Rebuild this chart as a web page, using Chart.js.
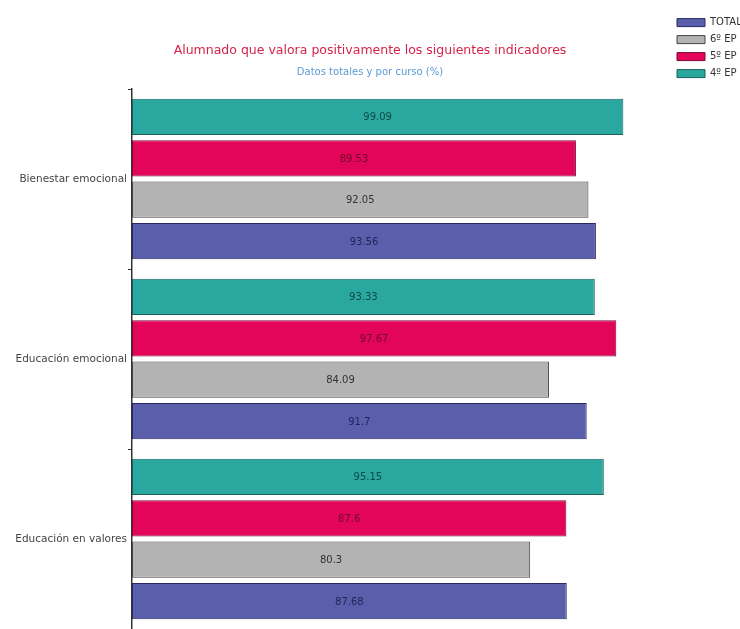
<!DOCTYPE html>
<html>
<head>
<meta charset="utf-8">
<script src="https://cdn.jsdelivr.net/npm/chart.js@4"></script>
<style>
  html, body { margin: 0; padding: 0; background: #fff; }
  #wrap { width: 740px; height: 629px; }
</style>
</head>
<body>
<div id="wrap"><canvas id="c" width="740" height="629"></canvas></div>
<script>
const categories = ['Bienestar emocional', 'Educación emocional', 'Educación en valores'];
const seriesNames = ['4º EP', '5º EP', '6º EP', 'TOTAL'];
const ep4 = [99.09, 93.33, 95.15];
const ep5 = [89.53, 97.67, 87.6];
const ep6 = [92.05, 84.09, 80.3];
const total = [93.56, 91.7, 87.68];
const titleText = 'Alumnado que valora positivamente los siguientes indicadores';
const subtitleText = 'Datos totales y por curso (%)';

const fills = ['#2aa8a0', '#e2055a', '#b3b3b3', '#5a5eab'];
const borders = ['#1a605b', '#7a0a32', '#444444', '#262965'];
const labelColors = ['#0f4a45', '#6e0a2c', '#333333', '#1f2457'];
const values = [ep4, ep5, ep6, total];

const FONT = '"DejaVu Sans", sans-serif';

const barLabels = {
  id: 'barLabels',
  afterDatasetsDraw(chart) {
    const ctx = chart.ctx;
    ctx.save();
    ctx.font = '10px ' + FONT;
    ctx.textAlign = 'center';
    ctx.textBaseline = 'middle';
    chart.data.datasets.forEach((ds, i) => {
      const meta = chart.getDatasetMeta(i);
      meta.data.forEach((el, j) => {
        const cx = (el.x + el.base) / 2;
        ctx.fillStyle = labelColors[i];
        ctx.fillText(String(ds.data[j]), cx, el.y + 1);
      });
    });
    ctx.restore();
  }
};

new Chart(document.getElementById('c'), {
  type: 'bar',
  data: {
    labels: categories,
    datasets: seriesNames.map((n, i) => ({
      label: n,
      data: values[i],
      backgroundColor: fills[i],
      borderColor: borders[i],
      borderWidth: 1,
      borderSkipped: false,
      barPercentage: 0.875,
      categoryPercentage: 0.92
    }))
  },
  options: {
    indexAxis: 'y',
    responsive: false,
    animation: false,
    layout: { padding: { left: 0, right: 0, top: 0, bottom: -1 } },
    scales: {
      x: {
        display: false,
        min: 0,
        max: 108.5
      },
      y: {
        afterFit(s) { s.width = 132; s.paddingTop = 0; s.paddingBottom = 0; },
        border: { display: true, color: '#333', width: 1.5 },
        grid: {
          offset: true,
          drawOnChartArea: false,
          drawTicks: true,
          tickLength: 4,
          color: '#333'
        },
        ticks: {
          color: '#444',
          padding: 1,
          font: { family: FONT, size: 10.5 }
        }
      }
    },
    plugins: {
      title: {
        display: true,
        text: titleText,
        color: '#d6224a',
        font: { family: FONT, size: 12.5, weight: 'normal' },
        padding: { top: 43, bottom: 4 }
      },
      subtitle: {
        display: true,
        text: subtitleText,
        color: '#5b9bd5',
        font: { family: FONT, size: 10, weight: 'normal' },
        padding: { top: 4, bottom: 11 }
      },
      legend: {
        display: true,
        position: 'right',
        align: 'start',
        reverse: true,
        maxWidth: 70,
        title: { display: true, text: '', font: { size: 8 }, padding: { top: 1, bottom: 0 } },
        labels: {
          boxWidth: 28,
          boxHeight: 8,
          padding: 7,
          color: '#333',
          font: { family: FONT, size: 10 }
        }
      },
      tooltip: { enabled: false }
    }
  },
  plugins: [barLabels]
});
</script>
</body>
</html>
